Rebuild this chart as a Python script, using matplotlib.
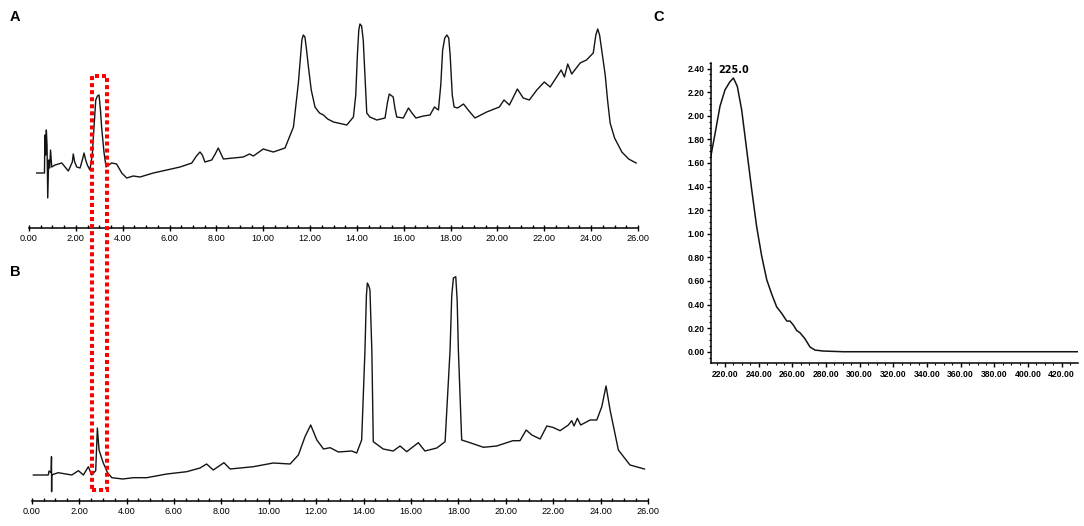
import matplotlib
matplotlib.use("Agg")
import matplotlib.pyplot as plt
from matplotlib.patches import Rectangle
from matplotlib.transforms import blended_transform_factory
from matplotlib.ticker import MultipleLocator, FormatStrFormatter

# ---------------- data ----------------
# Panel A chromatogram (retention time, min ; detector response, arbitrary units)
time_a = [0.33, 0.61, 0.66, 0.68, 0.71, 0.74, 0.77, 0.80, 0.84, 0.88, 0.92, 0.97, 1.11, 1.40, 1.54,
          1.68, 1.85, 1.89, 1.95, 2.04, 2.18, 2.30, 2.35, 2.42, 2.49, 2.60, 2.70, 2.78, 2.85, 2.92,
          2.99, 3.05, 3.10, 3.20, 3.29, 3.40, 3.53, 3.74, 3.96, 4.17, 4.45, 4.74, 5.31, 5.88, 6.45,
          6.95, 7.15, 7.30, 7.40, 7.51, 7.80, 7.95, 8.08, 8.20, 8.30, 8.72, 9.15, 9.41, 9.58, 10.00,
          10.43, 10.93, 11.29, 11.50, 11.65, 11.71, 11.78, 11.85, 11.93, 12.05, 12.21, 12.40, 12.57,
          12.75, 13.00, 13.57, 13.85, 13.95, 14.02, 14.08, 14.13, 14.20, 14.27, 14.35, 14.42, 14.55,
          14.85, 15.20, 15.30, 15.38, 15.55, 15.62, 15.70, 15.98, 16.20, 16.35, 16.52, 16.84, 17.12,
          17.31, 17.48, 17.58, 17.66, 17.75, 17.84, 17.92, 17.98, 18.07, 18.15, 18.30, 18.55, 18.75,
          19.04, 19.54, 20.08, 20.28, 20.51, 20.85, 21.10, 21.36, 21.68, 22.00, 22.25, 22.72, 22.86,
          23.00, 23.17, 23.53, 23.80, 24.09, 24.20, 24.28, 24.36, 24.45, 24.60, 24.70, 24.81, 25.00,
          25.31, 25.60, 25.92]
signal_a = [55, 55, 55, 93, 73, 98, 83, 30, 68, 60, 78, 61, 63, 65, 61,
            57, 66, 74, 66, 61, 60, 70, 75, 68, 63, 58, 73, 103, 128, 132,
            133, 118, 101, 76, 61, 63, 65, 64, 55, 50, 52, 51, 55, 58, 61,
            65, 72, 76, 73, 66, 68, 74, 80, 74, 69, 70, 71, 74, 72, 79,
            76, 80, 101, 145, 188, 193, 191, 178, 161, 138, 121, 115, 113,
            109, 106, 103, 111, 133, 173, 198, 204, 202, 188, 148, 115, 111,
            108, 110, 125, 134, 131, 120, 111, 110, 120, 115, 110, 112, 113,
            121, 118, 143, 178, 190, 193, 190, 173, 133, 121, 120, 124, 118,
            110, 116, 121, 128, 123, 139, 130, 128, 138, 146, 141, 158, 151,
            164, 154, 165, 168, 175, 193, 199, 193, 178, 153, 128, 105, 90,
            76, 69, 65]

# Panel B chromatogram
time_b = [0.07, 0.70, 0.73, 0.82, 0.835, 0.84, 0.845, 0.86, 1.12, 1.69, 1.97, 2.18, 2.39, 2.53,
          2.70, 2.77, 2.84, 3.02, 3.20, 3.38, 3.84, 4.29, 4.85, 5.70, 6.54, 7.10, 7.38, 7.66, 8.11,
          8.37, 9.35, 10.19, 10.90, 11.25, 11.53, 11.77, 12.03, 12.31, 12.59, 12.94, 13.50, 13.71,
          13.92, 14.06, 14.12, 14.16, 14.22, 14.27, 14.35, 14.41, 14.83, 15.25, 15.54, 15.82, 16.31,
          16.59, 17.09, 17.44, 17.65, 17.72, 17.79, 17.89, 17.95, 18.00, 18.14, 18.49, 19.06, 19.62,
          20.04, 20.30, 20.60, 20.86, 21.10, 21.45, 21.73, 21.98, 22.29, 22.64, 22.78, 22.88, 23.02,
          23.16, 23.56, 23.84, 24.05, 24.23, 24.40, 24.75, 25.24, 25.85]
signal_b = [25.7, 25.7, 29.7, 28, 44, 9, 26, 26, 28, 25.7, 30, 25.7, 34, 25.7,
            30, 72.7, 50.7, 37.7, 28, 23, 21.7, 23, 23, 26.7, 29, 32.7, 36.7, 30.7, 38,
            31.7, 34, 37.7, 36.7, 45.7, 64, 75.7, 60.7, 51.7, 53, 48.7, 49.7, 47.7,
            60.7, 150.7, 205, 217.7, 215, 210.7, 150, 59, 51.7, 49.7, 54.7, 49, 58,
            49.7, 52.7, 59, 150.7, 205, 222.7, 224, 200, 150.7, 60.7, 58, 53.4, 54.7,
            58, 60, 60, 70.7, 65.7, 61.7, 74.7, 73.4, 70, 75.7, 80, 74.7, 82.4,
            75.7, 80.7, 80.7, 94, 114.7, 90.7, 50.7, 35.7, 31.7]

# Panel C UV spectrum (wavelength nm ; absorbance)
wavelength = [211.5, 214.1, 217.0, 220.0, 223.0, 225.0, 227.3, 229.9, 232.9, 235.9, 238.8, 241.8,
              244.8, 247.7, 250.7, 253.7, 256.7, 258.6, 260.6, 262.6, 264.6, 267.5, 270.5, 273.5,
              278.4, 290.3, 429.7]
absorbance = [1.65, 1.85, 2.08, 2.22, 2.29, 2.32, 2.25, 2.05, 1.71, 1.37, 1.06, 0.81,
              0.61, 0.49, 0.38, 0.325, 0.26, 0.26, 0.226, 0.18, 0.16, 0.11, 0.04, 0.014,
              0.006, 0.0, 0.0]

chrom_ticks = [0, 2, 4, 6, 8, 10, 12, 14, 16, 18, 20, 22, 24, 26]
spec_xticks = [220, 240, 260, 280, 300, 320, 340, 360, 380, 400, 420]
spec_yticks = [0.0, 0.2, 0.4, 0.6, 0.8, 1.0, 1.2, 1.4, 1.6, 1.8, 2.0, 2.2, 2.4]
peak_label = "225.0"
peak_wavelength = 225.0
peak_abs = 2.32
highlight_window = (2.70, 3.32)   # minutes (panel A time scale)

# ---------------- figure ----------------
W, H = 1084, 526
fig = plt.figure(figsize=(W / 100, H / 100), dpi=100)
fig.patch.set_facecolor("white")

def frac(x0, y0, x1, y1):
    return [x0 / W, 1 - y1 / H, (x1 - x0) / W, (y1 - y0) / H]

line_kw = dict(color="#141414", lw=1.0)

def style_chrom(ax, ymax):
    ax.set_xlim(0, 26)
    ax.set_ylim(0, ymax)
    for s in ("top", "right", "left"):
        ax.spines[s].set_visible(False)
    ax.spines["bottom"].set_linewidth(1.1)
    ax.set_yticks([])
    ax.set_xticks(chrom_ticks)
    ax.xaxis.set_major_formatter(FormatStrFormatter("%.2f"))
    ax.xaxis.set_minor_locator(MultipleLocator(0.5))
    ax.tick_params(axis="x", which="major", direction="inout", length=4, width=1.0, pad=2.5)
    ax.tick_params(axis="x", which="minor", direction="in", length=2, width=1.0)
    for lab in ax.get_xticklabels():
        lab.set_fontfamily("Liberation Sans")
        lab.set_fontsize(6.6)
        lab.set_color("black")

axA = fig.add_axes(frac(29, 15, 638, 228))
axA.plot(time_a, signal_a, **line_kw)
style_chrom(axA, 213)

axB = fig.add_axes(frac(31.7, 265, 648, 500.7))
axB.plot(time_b, signal_b, **line_kw)
style_chrom(axB, 235.7)

axC = fig.add_axes(frac(710.7, 62.7, 1078, 363.3))
axC.plot(wavelength, absorbance, color="#141414", lw=1.1)
axC.set_xlim(211.5, 429.7)
axC.set_ylim(-0.098, 2.45)
for s in ("top", "right"):
    axC.spines[s].set_visible(False)
for s in ("left", "bottom"):
    axC.spines[s].set_linewidth(1.1)
axC.set_xticks(spec_xticks)
axC.set_yticks(spec_yticks)
axC.xaxis.set_major_formatter(FormatStrFormatter("%.2f"))
axC.yaxis.set_major_formatter(FormatStrFormatter("%.2f"))
axC.xaxis.set_minor_locator(MultipleLocator(5))
axC.yaxis.set_minor_locator(MultipleLocator(0.05))
axC.tick_params(axis="both", which="major", direction="out", length=3, width=1.0, pad=1.5)
axC.tick_params(axis="both", which="minor", direction="out", length=1.5, width=0.8)
for lab in axC.get_xticklabels() + axC.get_yticklabels():
    lab.set_fontfamily("Liberation Sans")
    lab.set_fontweight("bold")
    lab.set_fontsize(6.2)
axC.annotate(peak_label, xy=(peak_wavelength, peak_abs), xytext=(0, 2),
             textcoords="offset points", ha="center", va="bottom",
             fontsize=7, fontweight="bold", family="DejaVu Sans")

# red dashed highlight box spanning panels A and B
trans = blended_transform_factory(axA.transData, fig.transFigure)
x0, x1 = highlight_window
rect = Rectangle((x0, 1 - 490 / H), x1 - x0, (490 - 76) / H, transform=trans,
                 fill=False, edgecolor="#ff0000", lw=2.9,
                 linestyle=(0, (1.0, 0.75)), clip_on=False, zorder=5)
rect.set_capstyle("butt")
fig.add_artist(rect)

# panel letters
for letter, (px, py) in {"A": (10, 10), "B": (10, 265), "C": (653, 10)}.items():
    fig.text(px / W, 1 - py / H, letter, fontsize=10.5, fontweight="bold",
             family="Liberation Sans", ha="left", va="top")

fig.savefig("out.png", dpi=100, facecolor="white")
